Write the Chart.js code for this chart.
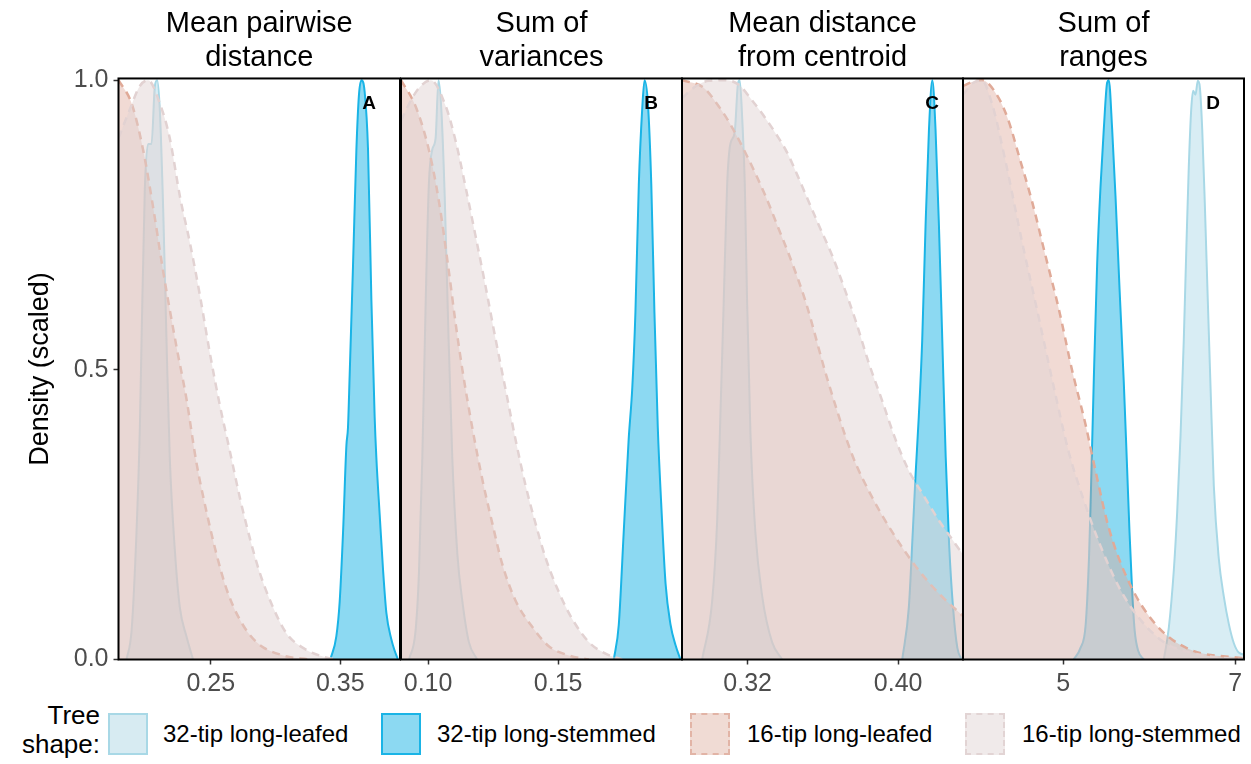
<!DOCTYPE html>
<html>
<head>
<meta charset="utf-8">
<script src="https://cdn.jsdelivr.net/npm/chart.js@4.4.1/dist/chart.umd.min.js"></script>
<style>
  html, body { margin: 0; padding: 0; background: #fff; }
  body { width: 1251px; height: 764px; position: relative; overflow: hidden;
         font-family: "Liberation Sans", Arial, sans-serif; }
  canvas.panel { position: absolute; top: 0; }
  .ltitle { position: absolute; right: 1151px; top: 701px; font-size: 26px; line-height: 29px; text-align: right; color: #000; }
  .key { position: absolute; top: 713px; width: 36px; height: 38px; border-width: 2px; }
  .ltext { position: absolute; top: 720px; font-size: 24px; line-height: 28px; color: #000; white-space: nowrap; }
</style>
</head>
<body>
<canvas id="panel0" class="panel"></canvas>
<canvas id="panel1" class="panel"></canvas>
<canvas id="panel2" class="panel"></canvas>
<canvas id="panel3" class="panel"></canvas>

<div class="ltitle">Tree<br>shape:</div>
<div class="key" style="left:108px;background:#d7ebf2;border-style:solid;border-color:#a8d8e6"></div>
<div class="ltext" style="left:163px">32-tip long-leafed</div>
<div class="key" style="left:381px;background:#8cd9f2;border-style:solid;border-color:#1ab4e6"></div>
<div class="ltext" style="left:437px">32-tip long-stemmed</div>
<div class="key" style="left:690px;background:#f0dbd4;border-style:dashed;border-color:#e2b4a6"></div>
<div class="ltext" style="left:747px">16-tip long-leafed</div>
<div class="key" style="left:965px;background:#f0eaea;border-style:dashed;border-color:#e2d4d4"></div>
<div class="ltext" style="left:1022px">16-tip long-stemmed</div>

<script>
// facet titles and x ticks
const titles = [
  ['Mean pairwise', 'distance'],
  ['Sum of', 'variances'],
  ['Mean distance', 'from centroid'],
  ['Sum of', 'ranges']
];
const letters = ['A', 'B', 'C', 'D'];
const xMin = [0.1787, 0.0896, 0.2851, 3.834];
const xMax = [0.3962, 0.1976, 0.4345, 7.101];
const xTicks = [[0.25, 0.35], [0.10, 0.15], [0.32, 0.40], [5, 7]];
const xTickLabels = [['0.25', '0.35'], ['0.10', '0.15'], ['0.32', '0.40'], ['5', '7']];
const yTicks = [0, 0.5, 1.0];
const yTickLabels = ['0.0', '0.5', '1.0'];

const seriesNames = ['32-tip long-leafed', '32-tip long-stemmed', '16-tip long-leafed', '16-tip long-stemmed'];

// density (scaled) curves, [x, density]
// Mean pairwise distance
const mpdLeaf32 = [[0.1849,0],[0.1888,0.05],[0.1926,0.22],[0.1952,0.40],[0.1965,0.55],[0.1990,0.81],[0.2016,0.89],[0.2042,0.89],[0.2068,0.99],[0.2086,1.0],[0.2106,0.95],[0.2132,0.78],[0.2158,0.55],[0.2183,0.35],[0.2222,0.19],[0.2261,0.09],[0.2312,0.04],[0.2363,0]];
const mpdStem32 = [[0.3424,0],[0.3470,0.04],[0.3496,0.10],[0.3522,0.22],[0.3548,0.37],[0.3560,0.40],[0.3573,0.49],[0.3599,0.68],[0.3625,0.88],[0.3645,0.975],[0.3664,1.0],[0.3689,0.98],[0.3715,0.88],[0.3741,0.62],[0.3766,0.42],[0.3779,0.35],[0.3805,0.25],[0.3831,0.155],[0.3857,0.08],[0.3895,0.035],[0.3921,0.015],[0.3946,0]];
const mpdLeaf16 = [[0.1787,1.0],[0.1888,0.96],[0.1977,0.88],[0.2055,0.78],[0.2132,0.67],[0.2235,0.54],[0.2312,0.45],[0.2389,0.34],[0.2467,0.255],[0.2544,0.182],[0.2621,0.122],[0.2724,0.069],[0.2853,0.03],[0.3058,0.007],[0.3265,0]];
const mpdStem16 = [[0.1787,0.90],[0.1875,0.95],[0.1952,0.99],[0.2016,1.0],[0.2106,0.96],[0.2183,0.90],[0.2261,0.80],[0.2338,0.72],[0.2415,0.63],[0.2492,0.53],[0.2569,0.44],[0.2647,0.36],[0.2724,0.28],[0.2801,0.21],[0.2878,0.15],[0.2981,0.09],[0.3085,0.045],[0.3213,0.02],[0.3367,0.005],[0.3471,0]];

// Sum of variances
const sovLeaf32 = [[0.0927,0],[0.0952,0.05],[0.0965,0.15],[0.0978,0.35],[0.0991,0.62],[0.1003,0.82],[0.1016,0.88],[0.1029,0.90],[0.1040,1.0],[0.1051,0.95],[0.1064,0.80],[0.1076,0.60],[0.1093,0.35],[0.1113,0.18],[0.1132,0.10],[0.1157,0.03],[0.1189,0]];
const sovStem32 = [[0.1714,0],[0.1733,0.06],[0.1752,0.22],[0.1771,0.38],[0.1785,0.47],[0.1797,0.60],[0.1810,0.82],[0.1823,0.95],[0.1832,1.0],[0.1845,0.96],[0.1858,0.82],[0.1870,0.60],[0.1883,0.40],[0.1896,0.27],[0.1913,0.13],[0.1932,0.06],[0.1951,0.025],[0.1970,0]];
const sovLeaf16 = [[0.0896,1.0],[0.0952,0.955],[0.1003,0.88],[0.1042,0.79],[0.1080,0.67],[0.1106,0.58],[0.1132,0.50],[0.1170,0.40],[0.1209,0.31],[0.1247,0.235],[0.1285,0.165],[0.1336,0.102],[0.1401,0.056],[0.1464,0.023],[0.1541,0.007],[0.1618,0]];
const sovStem16 = [[0.0896,0.93],[0.0940,0.97],[0.0972,0.99],[0.1010,1.0],[0.1068,0.955],[0.1106,0.895],[0.1144,0.816],[0.1183,0.73],[0.1221,0.644],[0.1260,0.552],[0.1298,0.466],[0.1336,0.38],[0.1375,0.30],[0.1413,0.235],[0.1452,0.175],[0.1503,0.116],[0.1554,0.07],[0.1618,0.03],[0.1682,0.01],[0.1746,0]];

// Mean distance from centroid
const mdcLeaf32 = [[0.2958,0],[0.3011,0.10],[0.3038,0.24],[0.3055,0.42],[0.3073,0.62],[0.3091,0.82],[0.3108,0.89],[0.3131,0.91],[0.3149,0.995],[0.3158,1.0],[0.3171,0.935],[0.3185,0.82],[0.3197,0.62],[0.3215,0.39],[0.3241,0.22],[0.3277,0.11],[0.3330,0.03],[0.3384,0]];
const mdcStem32 = [[0.4022,0],[0.4057,0.09],[0.4078,0.22],[0.4093,0.32],[0.4110,0.42],[0.4128,0.55],[0.4146,0.75],[0.4164,0.915],[0.4182,1.0],[0.4199,0.915],[0.4217,0.75],[0.4235,0.55],[0.4253,0.35],[0.4271,0.20],[0.4292,0.09],[0.4315,0.02],[0.4338,0]];
const mdcLeaf16 = [[0.2851,1.0],[0.2966,0.987],[0.3046,0.955],[0.3108,0.924],[0.3206,0.863],[0.3295,0.80],[0.3357,0.75],[0.3437,0.684],[0.3508,0.618],[0.3623,0.485],[0.3756,0.353],[0.3862,0.28],[0.3969,0.22],[0.4093,0.161],[0.4217,0.114],[0.4345,0.075]];
const mdcStem16 = [[0.2851,0.969],[0.2922,0.989],[0.2993,0.999],[0.3082,1.0],[0.3153,0.992],[0.3224,0.965],[0.3304,0.930],[0.3365,0.900],[0.3410,0.875],[0.3463,0.837],[0.3508,0.803],[0.3578,0.75],[0.3650,0.697],[0.3703,0.651],[0.3774,0.585],[0.3844,0.512],[0.3916,0.446],[0.3986,0.38],[0.4057,0.326],[0.4128,0.287],[0.4217,0.24],[0.4288,0.207],[0.4345,0.181]];

// Sum of ranges
const sorLeaf32 = [[6.169,0],[6.227,0.055],[6.285,0.154],[6.324,0.254],[6.363,0.386],[6.401,0.552],[6.432,0.717],[6.459,0.85],[6.487,0.949],[6.51,0.982],[6.537,0.975],[6.564,0.999],[6.587,0.989],[6.615,0.916],[6.646,0.784],[6.68,0.62],[6.712,0.47],[6.75,0.30],[6.808,0.174],[6.867,0.108],[6.925,0.061],[6.983,0.028],[7.04,0.012],[7.12,0.008]];
const sorStem32 = [[5.12,0],[5.20,0.02],[5.26,0.06],[5.30,0.18],[5.316,0.26],[5.355,0.485],[5.394,0.684],[5.433,0.817],[5.471,0.916],[5.510,0.996],[5.529,1.0],[5.568,0.916],[5.607,0.80],[5.654,0.64],[5.703,0.48],[5.742,0.33],[5.770,0.22],[5.800,0.12],[5.830,0.05],[5.871,0.015],[5.936,0]];
const sorLeaf16 = [[3.834,0.99],[3.941,0.997],[4.057,1.0],[4.250,0.969],[4.366,0.929],[4.483,0.87],[4.638,0.79],[4.793,0.697],[4.948,0.605],[5.103,0.499],[5.258,0.406],[5.374,0.326],[5.529,0.227],[5.762,0.134],[6.072,0.061],[6.459,0.018],[7.10,0.002]];
const sorStem16 = [[3.834,0.975],[3.95,0.995],[4.05,1.0],[4.17,0.96],[4.328,0.86],[4.522,0.72],[4.715,0.59],[4.89,0.47],[5.06,0.36],[5.238,0.275],[5.43,0.197],[5.665,0.12],[5.9,0.068],[6.19,0.028],[6.6,0.008],[7.1,0]];

const panelData = [
  [mpdLeaf32, mpdStem32, mpdLeaf16, mpdStem16],
  [sovLeaf32, sovStem32, sovLeaf16, sovStem16],
  [mdcLeaf32, mdcStem32, mdcLeaf16, mdcStem16],
  [sorLeaf32, sorStem32, sorLeaf16, sorStem16]
];

// look of each tree shape
const styles = [
  { line: 'rgb(168,216,230)', fill: 'rgba(168,216,230,0.45)', dash: [], width: 2, order: 4 },
  { line: 'rgb(26,180,230)', fill: 'rgba(26,180,230,0.5)', dash: [], width: 2, order: 3 },
  { line: 'rgb(224,170,152)', fill: 'rgba(222,168,152,0.42)', dash: [8, 6], width: 2.5, order: 2 },
  { line: 'rgb(226,210,210)', fill: 'rgba(225,212,212,0.5)', dash: [8, 6], width: 2.5, order: 1 }
];

const edges = [118.5, 400.5, 681.5, 962.5, 1243.5];
const font = '"Liberation Sans", Arial, sans-serif';

const framePlugin = {
  id: 'frame',
  afterDatasetsDraw(chart, args, opts) {
    const { ctx, chartArea: a } = chart;
    ctx.save();
    ctx.strokeStyle = '#000';
    ctx.lineWidth = 2;
    ctx.strokeRect(a.left, a.top, a.right - a.left, a.bottom - a.top);
    ctx.font = 'bold 19px ' + font;
    ctx.fillStyle = '#000';
    ctx.textAlign = 'center';
    ctx.textBaseline = 'middle';
    ctx.fillText(opts.letter, a.right - 31, a.top + 25);
    ctx.restore();
  }
};

function makePanel(i) {
  const canvas = document.getElementById('panel' + i);
  const left = i === 0 ? 0 : edges[i] - 5;
  const right = edges[i + 1] + 5;
  canvas.width = right - left;
  canvas.height = 700;
  canvas.style.left = left + 'px';

  const datasets = panelData[i].map((pts, k) => ({
    label: seriesNames[k],
    data: pts,
    borderColor: styles[k].line,
    backgroundColor: styles[k].fill,
    borderDash: styles[k].dash,
    borderWidth: styles[k].width,
    fill: 'origin',
    pointRadius: 0,
    cubicInterpolationMode: 'monotone',
    order: styles[k].order
  }));

  const yScale = {
    display: i === 0,
    min: 0,
    max: 1.003,
    afterBuildTicks: s => { s.ticks = yTicks.map(v => ({ value: v })); },
    ticks: {
      padding: 5,
      color: '#4d4d4d',
      font: { family: font, size: 25 },
      callback: v => yTickLabels[yTicks.indexOf(v)]
    },
    grid: { drawOnChartArea: false, drawTicks: true, tickLength: 5, tickColor: '#333', tickWidth: 1.5 },
    border: { display: false },
    title: {
      display: true,
      text: 'Density (scaled)',
      color: '#000',
      font: { family: font, size: 27 },
      padding: { top: 24, bottom: 0 }
    }
  };
  if (i === 0) yScale.afterFit = s => { s.width = edges[0]; };

  return new Chart(canvas, {
    type: 'line',
    data: { datasets },
    options: {
      responsive: false,
      animation: false,
      events: [],
      layout: { padding: { left: i === 0 ? 0 : 5, right: 5, top: 0, bottom: 0 } },
      plugins: {
        legend: { display: false },
        tooltip: { enabled: false },
        frame: { letter: letters[i] },
        title: {
          display: true,
          text: titles[i],
          fullSize: false,
          color: '#000',
          font: { family: font, size: 29, weight: 'normal', lineHeight: 1.17 },
          padding: { top: 7, bottom: 3.6 }
        }
      },
      scales: {
        x: {
          type: 'linear',
          min: xMin[i],
          max: xMax[i],
          afterBuildTicks: s => { s.ticks = xTicks[i].map(v => ({ value: v })); },
          afterFit: s => { s.height = 40.5; },
          ticks: {
            autoSkip: false,
            maxRotation: 0,
            padding: 5,
            color: '#4d4d4d',
            font: { family: font, size: 25 },
            callback: v => xTickLabels[i][xTicks[i].indexOf(v)]
          },
          grid: { drawOnChartArea: false, drawTicks: true, tickLength: 5, tickColor: '#333', tickWidth: 1.5 },
          border: { display: false }
        },
        y: yScale
      }
    },
    plugins: [framePlugin]
  });
}

for (let i = 0; i < 4; i++) makePanel(i);
</script>
</body>
</html>
